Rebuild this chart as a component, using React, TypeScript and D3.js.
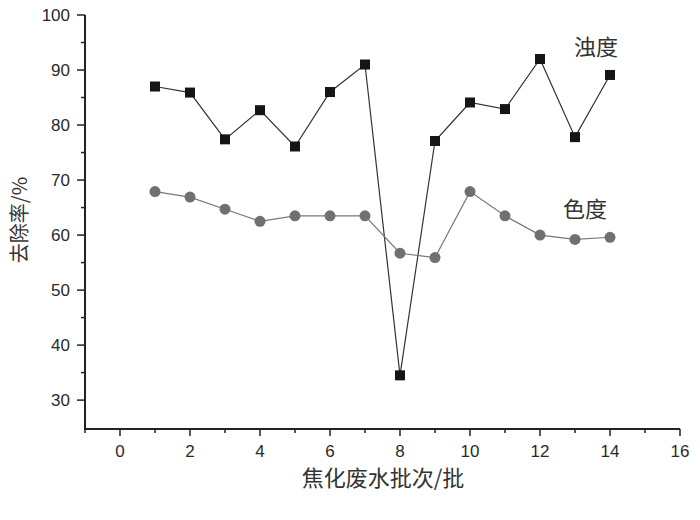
import React from "react";
import * as d3 from "d3";

const batches = [1, 2, 3, 4, 5, 6, 7, 8, 9, 10, 11, 12, 13, 14];
const turbidity = [87, 85.9, 77.4, 82.7, 76.1, 86, 91, 34.5, 77.1, 84.1, 82.9, 92, 77.8, 89.1];
const chroma = [67.9, 66.9, 64.7, 62.5, 63.5, 63.5, 63.5, 56.7, 55.9, 67.9, 63.5, 60, 59.2, 59.6];
const xTicks = [0, 2, 4, 6, 8, 10, 12, 14, 16];
const xMinor = [-1, 1, 3, 5, 7, 9, 11, 13, 15];
const yTicks = [30, 40, 50, 60, 70, 80, 90, 100];
const yMinor = [35, 45, 55, 65, 75, 85, 95];

const W = 700;
const H = 520;
const left = 85;
const right = 680;
const top = 15;
const bottom = 429;

export default function App() {
  const x = d3.scaleLinear().domain([-1, 16]).range([left, right]);
  const y = d3.scaleLinear().domain([24.75, 100]).range([bottom, top]);
  const line = d3
    .line<number>()
    .x((_, i) => x(batches[i]))
    .y((d) => y(d));
  const font = "Liberation Sans, Arial, sans-serif";
  const cjk = "Noto Sans CJK SC, sans-serif";
  return (
    <svg
      width={W}
      height={H}
      style={{ position: "absolute", left: 0, top: 0, background: "#fff" }}
    >
      {/* axes */}
      <line x1={left} x2={left} y1={top} y2={bottom + 1} stroke="#222" strokeWidth={2} />
      <line x1={left - 1} x2={right} y1={bottom} y2={bottom} stroke="#222" strokeWidth={2} />
      {yTicks.map((t) => (
        <g key={"y" + t}>
          <line x1={left - 8} x2={left} y1={y(t)} y2={y(t)} stroke="#222" strokeWidth={1.5} />
          <text
            x={left - 15}
            y={y(t)}
            dy="0.36em"
            textAnchor="end"
            fontFamily={font}
            fontSize={17}
            fill="#2a2a2a"
          >
            {t}
          </text>
        </g>
      ))}
      {yMinor.map((t) => (
        <line key={"ym" + t} x1={left - 4} x2={left} y1={y(t)} y2={y(t)} stroke="#222" strokeWidth={1.5} />
      ))}
      {xTicks.map((t) => (
        <g key={"x" + t}>
          <line x1={x(t)} x2={x(t)} y1={bottom} y2={bottom + 7} stroke="#222" strokeWidth={1.5} />
          <text
            x={x(t)}
            y={bottom + 28}
            textAnchor="middle"
            fontFamily={font}
            fontSize={17}
            fill="#2a2a2a"
          >
            {t}
          </text>
        </g>
      ))}
      {xMinor.map((t) => (
        <line key={"xm" + t} x1={x(t)} x2={x(t)} y1={bottom} y2={bottom + 4} stroke="#222" strokeWidth={1.5} />
      ))}
      {/* axis titles */}
      <text
        x={383}
        y={486}
        textAnchor="middle"
        fontFamily={cjk}
        fontSize={22}
        fill="#333"
      >
        焦化废水批次/批
      </text>
      <text
        transform={`translate(27,220) rotate(-90)`}
        textAnchor="middle"
        fontFamily={cjk}
        fontSize={20}
        fill="#333"
      >
        去除率/%
      </text>
      {/* series */}
      <path d={line(turbidity) || ""} fill="none" stroke="#333" strokeWidth={1.2} />
      <path d={line(chroma) || ""} fill="none" stroke="#777" strokeWidth={1.2} />
      {turbidity.map((v, i) => (
        <rect
          key={"t" + i}
          x={x(batches[i]) - 5}
          y={y(v) - 5}
          width={10}
          height={10}
          fill="#151515"
        />
      ))}
      {chroma.map((v, i) => (
        <circle key={"c" + i} cx={x(batches[i])} cy={y(v)} r={5.5} fill="#707070" />
      ))}
      <text x={596} y={55} textAnchor="middle" fontFamily={cjk} fontSize={22} fill="#333">
        浊度
      </text>
      <text x={585} y={217} textAnchor="middle" fontFamily={cjk} fontSize={22} fill="#333">
        色度
      </text>
    </svg>
  );
}
